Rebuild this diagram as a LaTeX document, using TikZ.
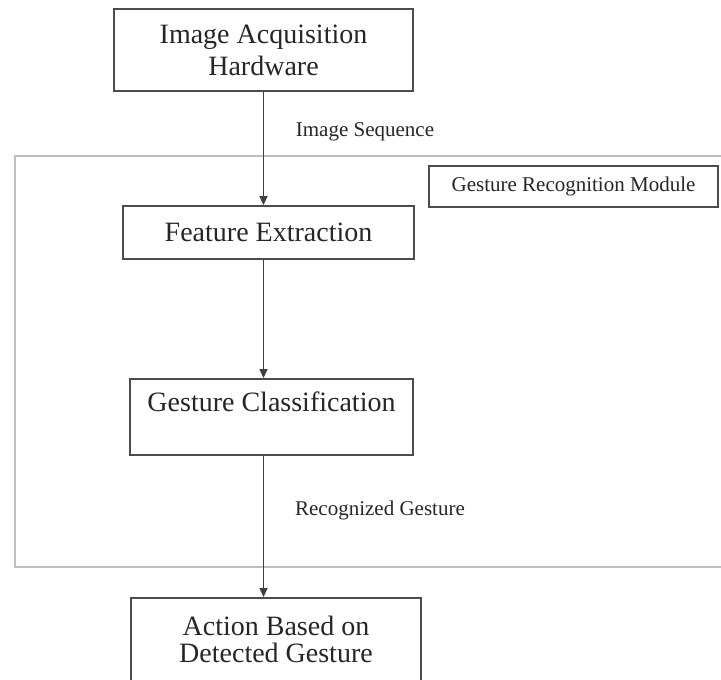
\documentclass[tikz,border=0pt]{standalone}
\usepackage{fontspec}
\setmainfont{Liberation Serif}
\usetikzlibrary{arrows.meta}

\tikzset{
	stage/.style={draw=black!70, line width=1.8pt, inner sep=0pt, align=center,
		font=\fontsize{28}{32}\selectfont, text=black!85},
	tag/.style={inner sep=0pt, font=\fontsize{21}{24}\selectfont, text=black!85},
	flow/.style={-{Triangle[length=9pt,width=8pt]}, line width=1.6pt, draw=black!75},
	frame/.style={draw=black!25, line width=2.6pt},
}

\begin{document}
\begin{tikzpicture}[x=1pt,y=-1pt]
	\clip (0,0) rectangle (721,680);
	\fill[white] (0,0) rectangle (721,680);
	% module frame, cut at the right edge
	\draw[frame] (730,156) -- (15,156) -- (15,567) -- (730,567);
	\node[stage, font=\fontsize{21}{24}\selectfont, minimum width=289pt, minimum height=41pt] (module) at (573.5,186.5) {Gesture Recognition Module};

	\node[stage, minimum width=299pt, minimum height=82pt] (acq) at (263.5,50) {Image Acquisition\\Hardware};
	\node[stage, minimum width=291pt, minimum height=53pt] (feat) at (268.5,232.5) {Feature Extraction};
	\node[stage, anchor=north, minimum width=283pt, text height=33pt, text depth=43pt] (cls) at (271.5,378) {Gesture Classification};
	\node[stage, anchor=north, minimum width=290pt, inner ysep=18pt, font=\fontsize{28}{27}\selectfont] (act) at (276,597) {Action Based on\\Detected Gesture};

	\node[tag] (seq) at (365,132) {Image Sequence};
	\node[tag] (rec) at (380,510) {Recognized Gesture};

	\draw[flow] (acq.south) -- (acq.south |- feat.north);
	\draw[flow] (acq.south |- feat.south) -- (acq.south |- cls.north);
	\draw[flow] (acq.south |- cls.south) -- (acq.south |- act.north);
\end{tikzpicture}
\end{document}
